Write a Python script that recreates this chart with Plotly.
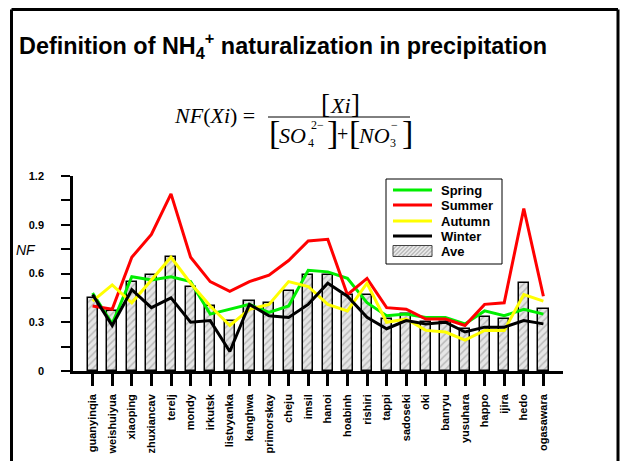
import plotly.graph_objects as go

# ── data ────────────────────────────────────────────────────────────────
sites = ["guanyinqia", "weishuiyua", "xiaoping", "zhuxiancav", "terelj", "mondy",
         "irkutsk", "listvyanka", "kanghwa", "primorskay", "cheju", "imsil",
         "hanoi", "hoabinh", "rishiri", "tappi", "sadoseki", "oki", "banryu",
         "yusuhara", "happo", "ijira", "hedo", "ogasawara"]

ave    = [0.45, 0.37, 0.55, 0.59, 0.70, 0.52, 0.40, 0.31, 0.43, 0.42, 0.49, 0.59,
          0.59, 0.47, 0.47, 0.32, 0.35, 0.30, 0.30, 0.26, 0.33, 0.32, 0.54, 0.38]
spring = [0.48, 0.29, 0.58, 0.56, 0.58, 0.55, 0.35, 0.38, 0.41, 0.36, 0.40, 0.62,
          0.61, 0.57, 0.42, 0.34, 0.35, 0.33, 0.33, 0.29, 0.37, 0.34, 0.38, 0.35]
summer = [0.40, 0.38, 0.70, 0.84, 1.09, 0.70, 0.55, 0.49, 0.55, 0.59, 0.68, 0.80,
          0.81, 0.47, 0.57, 0.39, 0.38, 0.32, 0.32, 0.28, 0.41, 0.42, 1.00, 0.46]
autumn = [0.43, 0.53, 0.42, 0.56, 0.70, 0.54, 0.40, 0.28, 0.38, 0.41, 0.55, 0.52,
          0.41, 0.37, 0.54, 0.30, 0.32, 0.25, 0.24, 0.19, 0.25, 0.25, 0.47, 0.43]
winter = [0.47, 0.28, 0.50, 0.39, 0.45, 0.30, 0.31, 0.12, 0.41, 0.34, 0.33, 0.41,
          0.54, 0.46, 0.33, 0.26, 0.31, 0.29, 0.30, 0.24, 0.27, 0.27, 0.31, 0.29]

y_ticks = [0, 0.3, 0.6, 0.9, 1.2]
y_ticktext = ["0", "0.3", "0.6", "0.9", "1.2"]

seasons = [("Spring", spring, "#00ee00"), ("Summer", summer, "#ff0000"),
           ("Autumn", autumn, "#ffff00"), ("Winter", winter, "#000000")]

SANS = "Liberation Sans, Arial, sans-serif"
SERIF = "Liberation Serif, Times New Roman, serif"

# plot area in pixels (used to place the free text around it)
L, R, T, B = 73, 563, 176, 371
W, H = 621, 461


def px(x):
    return (x - L) / (R - L)


def py(y):
    return (B - y) / (B - T)


fig = go.Figure()

# Ave bars (hatched)
fig.add_trace(go.Bar(
    x=sites, y=ave, name="Ave", width=0.52, showlegend=False,
    marker=dict(color="#e6e6e6", line=dict(color="black", width=1.5),
                pattern=dict(shape="/", fgcolor="#8c8c8c", bgcolor="#e6e6e6",
                             size=5, solidity=0.3)),
))

for name, vals, col in seasons:
    fig.add_trace(go.Scatter(x=sites, y=vals, name=name, mode="lines",
                             showlegend=False, line=dict(color=col, width=3)))

fig.update_layout(
    width=W, height=H,
    margin=dict(l=L, r=W - R, t=T, b=H - B, pad=0),
    paper_bgcolor="white", plot_bgcolor="white",
    bargap=0,
    xaxis=dict(range=[-1.0, 24.0], showgrid=False, zeroline=False, automargin=False,
               showline=True, linecolor="black", linewidth=2.5,
               ticks="outside", ticklen=12, tickwidth=2.5, tickcolor="black",
               tickangle=-90, ticklabelstandoff=4,
               tickfont=dict(family=SANS, size=11, color="black", weight="bold")),
    yaxis=dict(range=[0, 1.2], showgrid=False, zeroline=False, automargin=False,
               showline=True, linecolor="black", linewidth=2.5,
               tickmode="array", tickvals=y_ticks, ticktext=y_ticktext,
               ticks="outside", ticklen=9, tickwidth=2, tickcolor="black",
               ticklabelstandoff=15,
               minor=dict(dtick=0.15, ticks="outside", ticklen=9, tickwidth=2,
                          tickcolor="black", showgrid=False),
               tickfont=dict(family=SANS, size=11, color="black", weight="bold")),
)


def line(x0, y0, x1, y1, color="black", width=1):
    fig.add_shape(type="line", xref="paper", yref="paper",
                  x0=px(x0), y0=py(y0), x1=px(x1), y1=py(y1),
                  line=dict(color=color, width=width))


def ann(text, x, y, size, family=SERIF, xanchor="center", yanchor="middle", **kw):
    fig.add_annotation(text=text, x=px(x), y=py(y), xref="paper", yref="paper",
                       showarrow=False, xanchor=xanchor, yanchor=yanchor,
                       font=dict(family=family, size=size, color="black", **kw))


# outer frame (bottom edge runs off the image)
line(11.5, 9.5, 11.5, 475, width=3)
line(11.5, 9.5, 618, 9.5, width=3)
line(618, 9.5, 618, 475, width=3)

# legend drawn by hand so the rows sit as tight as the original
fig.add_shape(type="rect", xref="paper", yref="paper",
              x0=px(386), x1=px(502), y0=py(179), y1=py(264),
              fillcolor="white", line=dict(color="black", width=1))
rows = [190, 205, 221, 236, 251]
for (name, _, col), ry in zip(seasons, rows):
    line(393, ry, 432, ry, color=col, width=3)
    ann(name, 439, ry, 13, family=SANS, xanchor="left", weight="bold")
sx0, sx1, st, sb = 393, 432, rows[4] - 5.5, rows[4] + 5.5
fig.add_shape(type="rect", xref="paper", yref="paper",
              x0=px(sx0), x1=px(sx1), y0=py(sb), y1=py(st),
              fillcolor="#e6e6e6", line=dict(width=0))
h = sb - st
xs = sx0 - h
while xs < sx1:
    ax, ay, bx, by = xs, sb, xs + h, st
    if ax < sx0:
        ay -= sx0 - ax
        ax = sx0
    if bx > sx1:
        by += bx - sx1
        bx = sx1
    line(ax, ay, bx, by, color="#9a9a9a", width=1)
    xs += 4
fig.add_shape(type="rect", xref="paper", yref="paper",
              x0=px(sx0), x1=px(sx1), y0=py(sb), y1=py(st),
              line=dict(color="#444444", width=1))
ann("Ave", 439, rows[4], 13, family=SANS, xanchor="left", weight="bold")

# title
ann("Definition of NH<sub>4</sub><sup>+</sup> naturalization in precipitation",
    17, 46, 23.4, family=SANS, xanchor="left", weight="bold")

# NF axis label
ann("<i>NF</i>", 26, 250, 14, family=SANS)

# formula  NF(Xi) = [Xi] / ([SO4 2-] + [NO3 -])
ann("<i>NF</i>(<i>Xi</i>) =", 214, 115, 22)
ann("[", 325.5, 104, 27)
ann("<i>Xi</i>", 340.5, 106, 22)
ann("]", 355, 104, 27)
line(268, 117, 410, 117)
ann("[", 274.5, 133, 34)
ann("<i>SO</i>", 292, 135, 22)
ann("4", 310.5, 143, 12)
ann("2−", 317.5, 125, 12)
ann("]", 332.5, 133, 34)
ann("+", 342.5, 134, 20)
ann("[", 354.5, 133, 34)
ann("<i>NO</i>", 373.5, 135, 22)
ann("3", 392.5, 143, 12)
ann("−", 394, 125, 12)
ann("]", 407.5, 133, 34)

fig.write_html("out.html", config={"displayModeBar": False},
               post_script="document.body.style.margin='0';")
